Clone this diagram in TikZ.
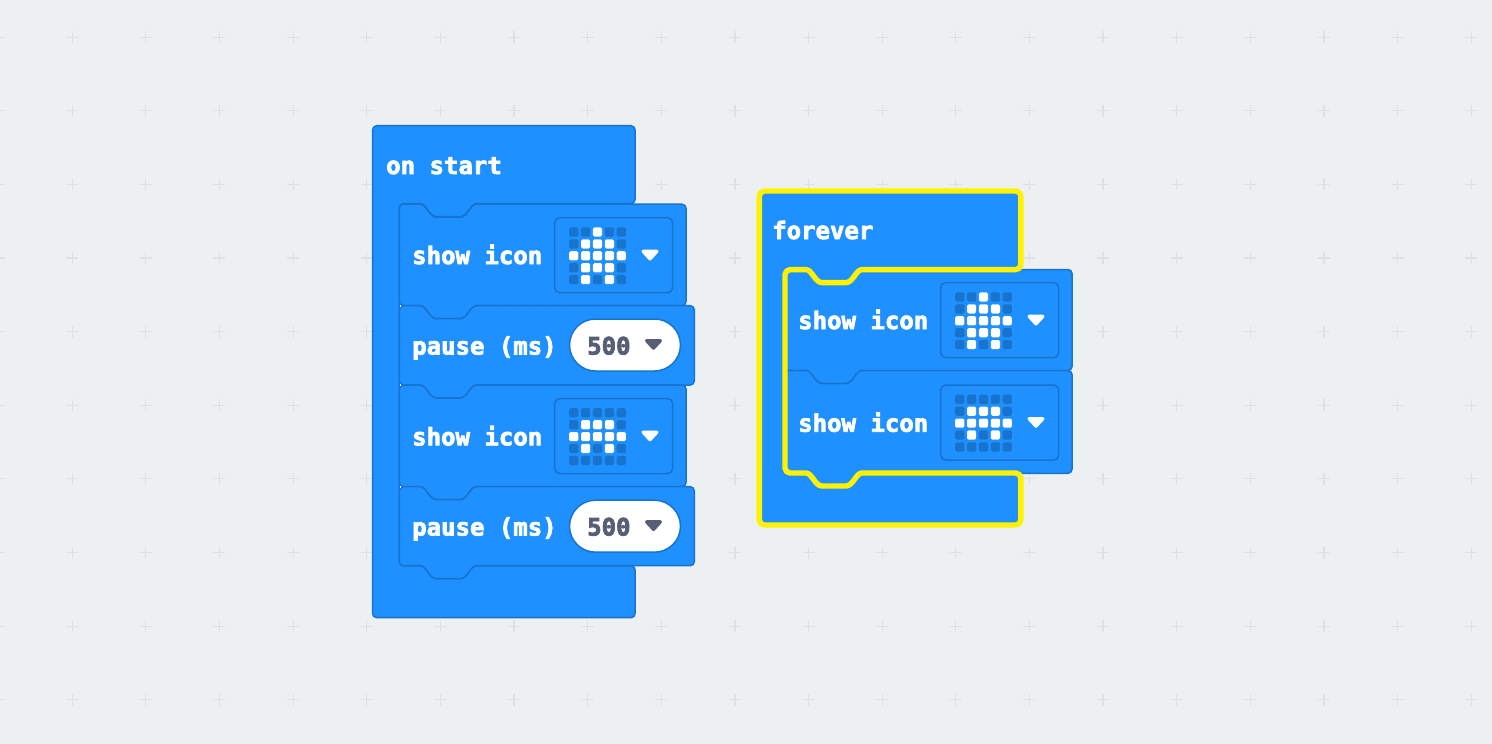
\documentclass[tikz,border=0pt]{standalone}
\usepackage{fontspec}
\setmonofont{DejaVu Sans Mono}[BoldFeatures={FakeBold=3}]
\definecolor{bgc}{HTML}{ECF0F1}
\definecolor{crossc}{HTML}{DDE1E2}
\definecolor{blockc}{HTML}{1E90FF}
\definecolor{edgec}{HTML}{1873CC}
\definecolor{selc}{HTML}{FFF200}
\definecolor{numc}{HTML}{575E75}
\tikzset{
  blockbody/.style={fill=blockc,draw=edgec,line width=1.5,line join=round},
  selbody/.style={fill=blockc,draw=selc,line width=5.4,line join=round},
  blocktext/.style={anchor=base west,inner sep=0pt,text=white,font=\fontsize{24}{28}\selectfont\ttfamily\bfseries},
  numtext/.style={anchor=base west,inner sep=0pt,text=numc,font=\fontsize{24}{28}\selectfont\ttfamily\bfseries},
  ledframe/.style={draw=edgec,line width=1.5,rounded corners=5,fill=blockc},
  ledoff/.style={fill=edgec,rounded corners=1.5},
  ledon/.style={fill=white,rounded corners=1.5},
  pill/.style={fill=white,draw=edgec,line width=1.5,rounded corners=26},
  tri/.style={line width=3.4,line join=round},
  gridcross/.style={draw=crossc,line width=1.2},
  jointick/.style={fill=white}
}
\newcommand{\notchdown}[2]{(#1+21,#2) .. controls (#1+27,#2) and (#1+30,#2+13) .. (#1+37,#2+13) -- (#1+61,#2+13) .. controls (#1+68,#2+13) and (#1+71,#2) .. (#1+77,#2)}
\newcommand{\notchback}[2]{(#1+77,#2) .. controls (#1+71,#2) and (#1+68,#2+13) .. (#1+61,#2+13) -- (#1+37,#2+13) .. controls (#1+30,#2+13) and (#1+27,#2) .. (#1+21,#2)}
% statement block: x0, y0 (top), x1, y1 (bottom)
\newcommand{\sblock}[4]{%
  \path[blockbody] (#1,#2+4) .. controls (#1,#2+1.8) and (#1+1.8,#2) .. (#1+4,#2)
    -- \notchdown{#1}{#2} -- (#3-4,#2) .. controls (#3-1.8,#2) and (#3,#2+1.8) .. (#3,#2+4)
    -- (#3,#4-4) .. controls (#3,#4-1.8) and (#3-1.8,#4) .. (#3-4,#4)
    -- \notchback{#1}{#4} -- (#1+4,#4) .. controls (#1+1.8,#4) and (#1,#4-1.8) .. (#1,#4-4) -- cycle;}
% C block: x0 y0 x1 y1 xi y2 radius style
\newcommand{\cblock}[8]{%
  \path[#8] (#1,#2+#7) .. controls (#1,#2+.45*#7) and (#1+.45*#7,#2) .. (#1+#7,#2)
    -- (#3-#7,#2) .. controls (#3-.45*#7,#2) and (#3,#2+.45*#7) .. (#3,#2+#7)
    -- (#3,#4-#7) .. controls (#3,#4-.45*#7) and (#3-.45*#7,#4) .. (#3-#7,#4)
    -- \notchback{#5}{#4} -- (#5+#7,#4) .. controls (#5+.45*#7,#4) and (#5,#4+.45*#7) .. (#5,#4+#7)
    -- (#5,#6-#7) .. controls (#5,#6-.45*#7) and (#5+.45*#7,#6) .. (#5+#7,#6)
    -- \notchdown{#5}{#6} -- (#3-#7,#6) .. controls (#3-.45*#7,#6) and (#3,#6+.45*#7) .. (#3,#6+#7)
    -- (#3,#6+52-#7) .. controls (#3,#6+52-.45*#7) and (#3-.45*#7,#6+52) .. (#3-#7,#6+52)
    -- (#1+#7,#6+52) .. controls (#1+.45*#7,#6+52) and (#1,#6+52-.45*#7) .. (#1,#6+52-#7) -- cycle;}
% triangle marker
\newcommand{\trimark}[3]{\path[tri,fill=#3,draw=#3] (#1-6.8,#2-3.8) -- (#1+6.8,#2-3.8) -- (#1,#2+3.6) -- cycle;}
% LED field: x y (top left), list of lit c/r
\newcommand{\ledfield}[3]{%
  \path[ledframe] (#1,#2) rectangle (#1+118,#2+75);
  \foreach \c in {0,...,4} \foreach \r in {0,...,4}
    \path[ledoff] (#1+19+11.9*\c-4.6,#2+14.3+11.9*\r-4.6) rectangle ++(9.2,9.2);
  \foreach \c/\r in #3
    \path[ledon] (#1+19+11.9*\c-4.6,#2+14.3+11.9*\r-4.6) rectangle ++(9.2,9.2);
  \trimark{#1+95.3}{#2+37.5}{white}}
\newcommand{\pillfield}[2]{%
  \path[pill] (#1,#2) rectangle (#1+111,#2+52);
  \trimark{#1+84}{#2+25.5}{numc}}
\newcommand{\bigheart}{2/0,1/1,2/1,3/1,0/2,1/2,2/2,3/2,4/2,1/3,2/3,3/3,1/4,3/4}
\newcommand{\smallheart}{1/1,2/1,3/1,0/2,1/2,2/2,3/2,4/2,1/3,3/3}
\begin{document}
\begin{tikzpicture}[x=1pt,y=-1pt]
\useasboundingbox (0,0) rectangle (1492,744);
\fill[bgc] (0,0) rectangle (1492,744);
% background grid
\foreach \i in {0,...,20} \foreach \j in {0,...,9} {
  \path[gridcross] ({-1.4+73.63*\i-6},{37.1+73.63*\j}) -- ++(12,0);
  \path[gridcross] ({-1.4+73.63*\i},{37.1+73.63*\j-6}) -- ++(0,12);
}
% on start
\cblock{372.7}{125.7}{635}{203.6}{399.3}{565.7}{4}{blockbody}
\sblock{399.3}{204.2}{686}{305.7}
\sblock{399.3}{305.7}{694.3}{385}
\sblock{399.3}{385}{686}{486.7}
\sblock{399.3}{486.7}{694.3}{565.7}
\foreach \y in {305,384.3,486} \fill[jointick] (399.6,\y) rectangle ++(1.5,1.5);
\node[blocktext] (onstart) at (386,174) {on start};
\node[blocktext] (show1) at (412,264) {show icon};
\ledfield{554.7}{217.7}{\bigheart}
\node[blocktext] (pause1) at (412,354.5) {pause (ms)};
\pillfield{569.5}{319}
\node[numtext] (num1) at (587,354.5) {500};
\node[blocktext] (show2) at (412,445.3) {show icon};
\ledfield{554.7}{398.5}{\smallheart}
\node[blocktext] (pause2) at (412,535.5) {pause (ms)};
\pillfield{569.5}{500.2}
\node[numtext] (num2) at (587,535.5) {500};
% forever
\sblock{785}{269.5}{1072}{370.5}
\sblock{785}{370.5}{1072}{473.3}
\cblock{759.3}{191}{1020.8}{269.6}{785}{473}{5}{selbody}
\node[blocktext] (forever) at (772,239) {forever};
\node[blocktext] (show3) at (798,329) {show icon};
\ledfield{940.7}{282.7}{\bigheart}
\node[blocktext] (show4) at (798,431.7) {show icon};
\ledfield{940.7}{385}{\smallheart}
\end{tikzpicture}
\end{document}
